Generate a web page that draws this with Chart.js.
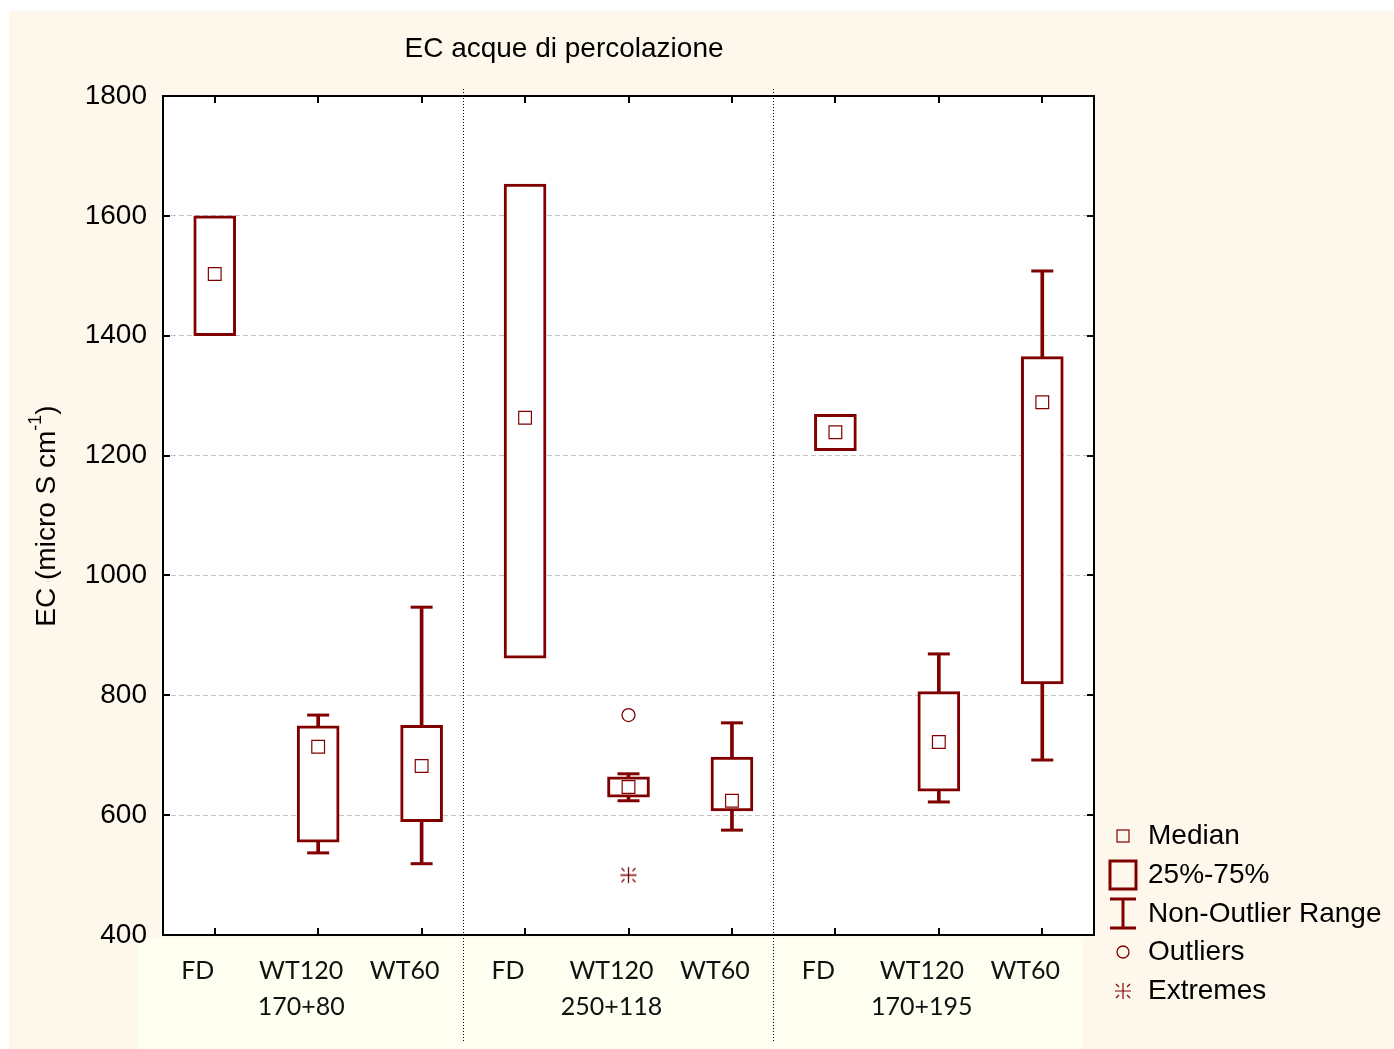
<!DOCTYPE html>
<html><head><meta charset="utf-8">
<script src="https://cdn.jsdelivr.net/npm/chart.js@4"></script>
<style>html,body{margin:0;padding:0;background:#fff}canvas{display:block}</style>
</head><body>
<canvas id="c" width="1394" height="1049"></canvas>
<script>
const categories = ["FD","WT120","WT60","FD","WT120","WT60","FD","WT120","WT60"];
const groups = ["170+80","250+118","170+195"];
const yTicks = [400,600,800,1000,1200,1400,1600,1800];
const q1 = [1400, 555, 589, 862, 630, 607, 1208, 640, 819];
const q3 = [1600, 749, 750, 1653, 664, 697, 1269, 806, 1365];
const median = [1503, 714, 682, 1263, 647, 624, 1239, 722, 1289];
const whiskerMin = [1400, 537, 519, 862, 624, 575, 1208, 622, 692];
const whiskerMax = [1600, 767, 947, 1653, 669, 754, 1269, 869, 1508];
const outliers = [null, null, null, null, 767, null, null, null, null];
const extremes = [null, null, null, null, 500, null, null, null, null];
const legendItems = ["Median","25%-75%","Non-Outlier Range","Outliers","Extremes"];
const titleText = "EC acque di percolazione";

const RED = '#800000';
const W = 1394, H = 1049;
const tickLabels = categories.map((c,i)=> i%3===1 ? [c, groups[Math.floor(i/3)]] : c);
const capMax = whiskerMax.map((v,i)=> v>q3[i] ? v : null);
const capMin = whiskerMin.map((v,i)=> v<q1[i] ? v : null);
const whiskers = whiskerMin.map((v,i)=> (v<q1[i] || whiskerMax[i]>q3[i]) ? [v, whiskerMax[i]] : null);

function drawExtreme(ctx, cx, cy){
  ctx.beginPath();
  ctx.moveTo(cx-8, cy); ctx.lineTo(cx+8, cy);
  ctx.moveTo(cx, cy-8); ctx.lineTo(cx, cy+8);
  [[1,1],[1,-1],[-1,1],[-1,-1]].forEach(([dx,dy])=>{
    ctx.moveTo(cx+dx*4, cy+dy*4); ctx.lineTo(cx+dx*7, cy+dy*7);
  });
  ctx.stroke();
}
const extremeImg = document.createElement('canvas');
extremeImg.width = 19; extremeImg.height = 19;
{ const g = extremeImg.getContext('2d'); g.strokeStyle = RED; g.lineWidth = 1.3; drawExtreme(g, 9.5, 9.5); }

const deco = {
  id:'deco',
  beforeDraw(chart){
    const {ctx, chartArea:a} = chart;
    ctx.save();
    ctx.fillStyle='#fff'; ctx.fillRect(0,0,W,H);
    ctx.fillStyle='#fef8ec'; ctx.fillRect(9,11,W-9,H-11);
    ctx.fillStyle='#fffff1'; ctx.fillRect(137,a.bottom+3,946,H-a.bottom-3);
    ctx.fillStyle='#fff'; ctx.fillRect(a.left,a.top,a.right-a.left,a.bottom-a.top);
    ctx.restore();
  },
  afterDraw(chart){
    const {ctx, chartArea:a, scales:{x,y}} = chart;
    ctx.save();
    // separators
    ctx.strokeStyle='#000'; ctx.lineWidth=1; ctx.setLineDash([1,2]);
    [2,5].forEach(i=>{
      const p = x.getPixelForValue(i) + 0.4*(x.getPixelForValue(i+1)-x.getPixelForValue(i));
      const xx = Math.round(p)+0.5;
      ctx.beginPath(); ctx.moveTo(xx, a.top-7); ctx.lineTo(xx, 1041); ctx.stroke();
    });
    ctx.setLineDash([]);
    // frame
    ctx.lineWidth=2; ctx.strokeStyle='#000';
    ctx.strokeRect(a.left, a.top, a.right-a.left, a.bottom-a.top);
    // inward ticks
    ctx.beginPath();
    categories.forEach((c,i)=>{
      const p = Math.round(x.getPixelForValue(i));
      ctx.moveTo(p,a.bottom); ctx.lineTo(p,a.bottom-7);
      ctx.moveTo(p,a.top); ctx.lineTo(p,a.top+7);
    });
    yTicks.forEach(v=>{
      const p = Math.round(y.getPixelForValue(v));
      ctx.moveTo(a.left,p); ctx.lineTo(a.left+7,p);
      ctx.moveTo(a.right,p); ctx.lineTo(a.right-7,p);
    });
    ctx.stroke();
    // title
    ctx.fillStyle='#000'; ctx.textBaseline='middle'; ctx.textAlign='center';
    ctx.font='28px "Liberation Sans", Arial, sans-serif';
    ctx.fillText(titleText, 564, 49);
    // y title with superscript
    ctx.save();
    ctx.translate(47, 516); ctx.rotate(-Math.PI/2);
    const f1='28px "Liberation Sans", Arial, sans-serif', f2='18px "Liberation Sans", Arial, sans-serif';
    const s1='EC (micro S cm', s2='-1', s3=')';
    ctx.font=f1; const w1=ctx.measureText(s1).width, w3=ctx.measureText(s3).width;
    ctx.font=f2; const w2=ctx.measureText(s2).width;
    let sx = -(w1+w2+w3)/2;
    ctx.textAlign='left';
    ctx.font=f1; ctx.fillText(s1, sx, 0); sx+=w1;
    ctx.font=f2; ctx.fillText(s2, sx, -11); sx+=w2;
    ctx.font=f1; ctx.fillText(s3, sx, 0);
    ctx.restore();
    // legend
    const lx=1123, ly=[836,875,914,952,991];
    ctx.font='28px "Liberation Sans", Arial, sans-serif';
    ctx.textAlign='left'; ctx.fillStyle='#000';
    legendItems.forEach((t,i)=>ctx.fillText(t, 1148, ly[i]));
    ctx.strokeStyle=RED;
    ctx.lineWidth=1.2; ctx.strokeRect(lx-6, ly[0]-6, 12, 12);
    ctx.lineWidth=3; ctx.strokeRect(lx-13, ly[1]-14, 26, 28);
    ctx.beginPath();
    ctx.moveTo(lx-13, ly[2]-15); ctx.lineTo(lx+13, ly[2]-15);
    ctx.moveTo(lx, ly[2]-15); ctx.lineTo(lx, ly[2]+14);
    ctx.moveTo(lx-13, ly[2]+14); ctx.lineTo(lx+13, ly[2]+14);
    ctx.stroke();
    ctx.lineWidth=1.3;
    ctx.beginPath(); ctx.arc(lx, ly[3], 6, 0, Math.PI*2); ctx.stroke();
    ctx.lineWidth=1.2;
    drawExtreme(ctx, lx, ly[4]);
    ctx.restore();
  }
};

new Chart(document.getElementById('c'), {
  type:'bar',
  data:{
    labels: tickLabels,
    datasets:[
      {label:'Non-Outlier Range', data: whiskers, grouped:false,
       barThickness:3, backgroundColor:RED, borderWidth:0, order:4},
      {label:'25%-75%', data: q1.map((v,i)=>[v, q3[i]]), grouped:false,
       barThickness:42, backgroundColor:'#fff', borderColor:RED, borderWidth:3, borderSkipped:false, order:3},
      {type:'line', label:'capMax', data: capMax, showLine:false, pointStyle:'line', pointRadius:11,
       borderColor:RED, pointBorderWidth:3, order:2},
      {type:'line', label:'capMin', data: capMin, showLine:false, pointStyle:'line', pointRadius:11,
       borderColor:RED, pointBorderWidth:3, order:2},
      {type:'line', label:'Median', data: median, showLine:false, pointStyle:'rect', pointRadius:9,
       pointBackgroundColor:'#fff', pointBorderColor:RED, pointBorderWidth:1.2, order:1},
      {type:'line', label:'Outliers', data: outliers, showLine:false, pointStyle:'circle', pointRadius:6.5,
       pointBackgroundColor:'rgba(0,0,0,0)', pointBorderColor:RED, pointBorderWidth:1.3, order:1},
      {type:'line', label:'Extremes', data: extremes, showLine:false, pointStyle:extremeImg, pointRadius:9,
       pointBorderColor:RED, order:1}
    ]
  },
  options:{
    responsive:false, animation:false, devicePixelRatio:1,
    layout:{padding:{top:96,right:300,left:0,bottom:0}},
    plugins:{legend:{display:false}, tooltip:{enabled:false}, title:{display:false}},
    scales:{
      x:{type:'category', offset:true,
         grid:{display:false, drawTicks:false}, border:{display:false},
         ticks:{color:'#111', font:{family:'Lato, "Open Sans", sans-serif', size:25, lineHeight:1.45},
                padding:18, labelOffset:-17, maxRotation:0, autoSkip:false},
         afterFit(s){ s.height = 114; }},
      y:{min:400, max:1800,
         grid:{color:'#c4c4c4', lineWidth:1, drawTicks:false},
         border:{display:false, dash:[5,3]},
         ticks:{stepSize:200, color:'#000', padding:16, callback:(v)=>String(v),
                font:{family:'"Liberation Sans", Arial, sans-serif', size:28}},
         afterFit(s){ s.width = 163; }}
    }
  },
  plugins:[deco]
});
</script>
</body></html>
